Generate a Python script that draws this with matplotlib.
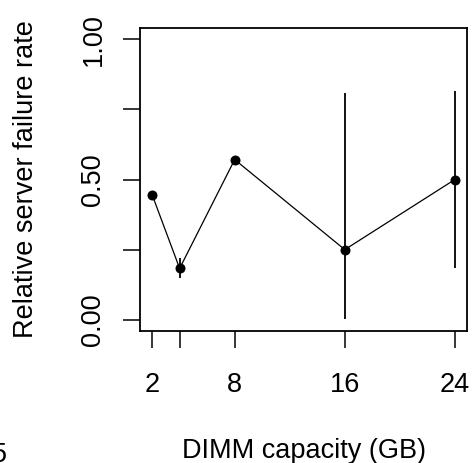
import matplotlib
matplotlib.use("Agg")
import matplotlib.pyplot as plt
import numpy as np

plt.rcParams['font.family'] = ['Liberation Sans', 'DejaVu Sans']

capacity = [2, 4, 8, 16, 24]
failure_rate = [0.446, 0.183, 0.571, 0.250, 0.500]
err_low = [np.nan, 0.149, np.nan, 0.004, 0.186]
err_high = [np.nan, 0.220, np.nan, 0.807, 0.815]
xtick_pos = [2, 4, 8, 16, 24]
xtick_labels = ["2", "", "8", "16", "24"]
ytick_pos = [0.0, 0.25, 0.5, 0.75, 1.0]
ytick_labels = ["0.00", "", "0.50", "", "1.00"]

W, H = 472, 463
fig = plt.figure(figsize=(W / 100, H / 100), dpi=100)
ax = fig.add_axes([140 / W, 1 - 331 / H, (467 - 140) / W, (331 - 28) / H])

# error bars
for x, lo, hi in zip(capacity, err_low, err_high):
    if not (np.isnan(lo) or np.isnan(hi)):
        ax.vlines(x, lo, hi, colors='black', linewidth=1.3)

ax.plot(capacity, failure_rate, color='black', linewidth=0.9,
        marker='o', markersize=7.2, markerfacecolor='black', markeredgewidth=0)

ax.set_xlim(2 - 22 * 0.04, 24 + 22 * 0.04)
ax.set_ylim(-0.04, 1.04)

ax.set_xticks(xtick_pos)
ax.set_xticklabels(xtick_labels)
ax.set_yticks(ytick_pos)
ax.set_yticklabels(ytick_labels, rotation=90, va='center')

for s in ax.spines.values():
    s.set_linewidth(1.3)

ax.tick_params(axis='both', direction='out', length=12.2, width=1.1,
               labelsize=19.5, color='black')
ax.tick_params(axis='x', pad=17)
ax.tick_params(axis='y', pad=12)

ax.set_xlabel("DIMM capacity (GB)", fontsize=19.5, va='baseline')
ax.xaxis.set_label_coords(0.5, (331 - 458) / 303)
ax.set_ylabel("Relative server failure rate", fontsize=19.5, va='baseline')
ax.yaxis.set_label_coords((33 - 140) / 327, 0.5)

# stray partial label at the bottom-left edge
fig.text(-8 / W, 1 - 462 / H, "5", fontsize=19.5, ha='left', va='baseline')

fig.savefig("out.png", dpi=100)
